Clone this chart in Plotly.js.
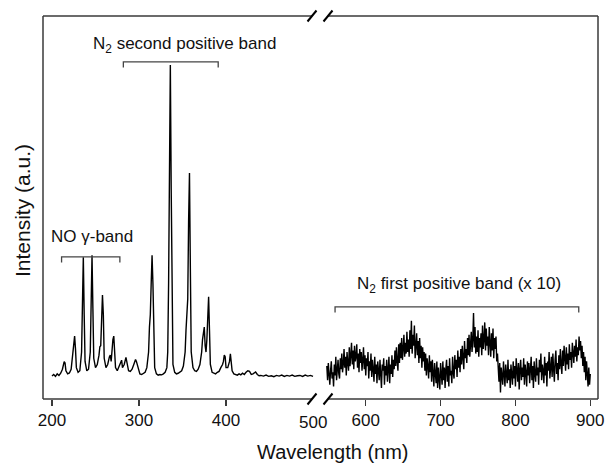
<!DOCTYPE html>
<html>
<head>
<meta charset="utf-8">
<script src="https://cdn.plot.ly/plotly-3.0.1.min.js"></script>
<style>html,body{margin:0;padding:0;background:#fff;}#chart{width:611px;height:465px;}</style>
</head>
<body>
<div id="chart"></div>
<script>
// ---- Data ----
const uvWavelength = [200,202,204,206,208,210,212,214,215,216,218,220,222,224,225,226,227,228,230,232,234,235,236,237,238,240,242,244,245,246,247,248,250,252,254,255,256,257,258,259,260,262,264,266,267,268,269,270,271,272,273,275,277,279,280,281,283,285,286,288,290,292,294,296,297,299,301,303,305,307,309,311,312,313,314,315,316,317,318,320,322,324,326,328,330,332,333,334,335,336,337,338,339,341,343,345,347,349,351,353,354,355,356,357,358,359,360,362,364,366,368,370,371,372,373,374,375,376,377,378,379,380,381,382,384,386,388,390,392,394,396,397,398,399,400,402,404,405,406,407,409,411,413,415,417,419,421,423,425,427,429,431,433,434,436,438,440,443,446,449,452,455,458,461,464,467,470,473,476,479,482,485,488,491,494,497,500];
const uvIntensity = [0.3,0.8,0.2,1.0,0.5,1.2,2.5,4.9,4.5,2.0,1.0,1.3,2.5,7,11,13.1,9,3,1.5,2,8,25,38.4,20,5,2,2.5,8,25,39,22,6,3,4,7,9.7,10,18,26.3,20,6,3,4,6.5,7,5,9,12,13.1,8,3,2,3.5,5,5.4,3,4,6.3,4.5,2,1.8,2.5,4,5.6,5,2.5,1,0.8,1.2,1.5,3,8,16,20,30,39,30,10,3,1,0.6,0.8,0.7,1,1.5,3,8,30,75,100,60,15,4,1.5,1,1.2,1.5,2,3.5,8,15,19.3,25,50,65.4,35,8,3,2,1.8,2.5,4,6,8,12,15,16,10,8,12,20,25.7,15,4,1.5,1.2,1,1.5,1.8,3,4,5,7,6.5,3,3,5,7.4,5,2,1,0.8,0.6,1,0.7,1.2,0.8,1.5,2,1.8,0.8,1,1.5,1.6,0.8,0.4,0.5,0.3,0.6,0.2,0.4,0.1,0.5,0.3,0.6,0.2,0.5,0.3,0.6,0.2,0.4,0.5,0.2,0.6,0.3,0.5,0.2];

// N2 first positive band (x 10), sampled every 1 nm from 548 nm to 900 nm
const irStartNm = 548;
const irStepNm = 1;
const irIntensity = [
  3.5,-1.0,4.5,0.5,-2.5,2.0,5.0,-0.5,1.5,-3.0,
  4.0,0.5,6.5,-1.0,3.0,5.5,1.0,-0.5,6.0,2.5,
  7.5,1.5,4.0,9.0,3.0,6.5,0.5,8.0,4.5,2.0,
  9.5,3.5,7.0,11.0,4.0,8.5,2.5,10.0,5.0,6.5,
  10.5,3.0,7.5,1.5,9.0,4.5,8.0,2.0,5.5,9.5,
  2.5,7.0,0.5,6.0,3.5,8.0,-0.5,5.0,2.0,7.5,
  0.0,5.5,2.5,-1.5,6.5,1.0,4.0,-2.0,5.0,3.0,
  -1.0,5.5,0.5,-3.5,4.0,2.0,6.0,-2.5,3.5,0.5,
  5.5,-1.5,2.5,6.5,-2.0,4.0,1.0,7.0,0.0,5.5,
  2.5,8.5,3.5,9.5,5.0,2.0,10.5,4.5,11.0,6.0,
  12.5,5.5,9.0,13.5,6.5,11.0,7.5,14.5,8.0,12.0,
  6.5,15.0,9.0,18.0,7.5,13.5,10.0,16.5,6.0,12.5,
  14.0,7.0,11.5,4.5,12.5,6.0,10.0,3.0,9.5,5.0,
  8.0,2.0,7.5,0.5,6.0,3.5,-0.5,7.0,1.5,5.0,
  -1.5,5.5,0.5,-3.0,4.5,1.5,-2.0,5.0,-3.5,3.0,
  0.0,-4.0,4.5,1.0,-2.5,5.0,-1.0,3.0,-3.5,2.5,
  5.5,-1.5,3.5,-3.0,6.0,0.5,2.0,-2.0,6.5,1.5,
  -0.5,7.0,2.5,5.5,0.0,8.5,3.0,6.5,1.5,9.0,
  4.0,10.0,5.5,2.5,11.5,6.0,9.0,4.5,12.5,7.0,
  13.5,6.5,10.5,14.5,8.0,12.0,20.5,9.5,16.0,7.5,
  13.0,8.0,15.0,6.5,12.5,9.5,14.0,7.0,16.5,9.0,
  12.0,17.5,8.5,15.5,10.0,13.0,7.0,16.0,11.0,6.5,
  14.0,8.5,15.5,6.0,12.5,9.0,13.0,5.0,7.5,2.0,
  -1.5,4.5,-5.0,3.0,0.5,-2.5,5.0,1.0,-3.0,4.0,
  0.5,-2.0,5.5,-1.0,2.5,-3.5,4.0,1.5,-2.5,5.0,
  -0.5,3.5,-3.0,6.0,1.0,-1.5,4.5,-4.0,2.5,5.5,
  -1.0,3.0,0.0,6.0,-2.5,4.0,1.5,-3.0,5.0,0.5,
  4.5,-2.0,2.5,6.5,-1.0,3.5,-3.5,5.0,1.0,-1.5,
  6.0,0.5,3.0,-2.5,5.5,1.5,7.5,-1.0,4.0,2.0,
  -2.0,6.5,0.5,4.5,-3.0,5.0,2.0,8.0,-0.5,3.5,
  6.5,0.0,7.5,2.5,-1.5,5.5,8.5,1.0,4.5,-1.0,
  7.0,2.5,9.0,4.0,1.0,8.5,3.5,10.0,5.0,2.0,
  9.5,4.0,7.5,2.5,10.5,5.5,8.0,3.0,11.0,6.0,
  4.5,10.0,6.5,12.0,5.0,9.5,7.0,13.0,8.5,11.5,
  6.0,10.0,3.5,8.0,1.5,6.5,-1.0,5.0,0.5,-3.0,
  3.0,-2.5,1.0
];
const irWavelength = irIntensity.map((_, i) => irStartNm + i * irStepNm);

const leftTicks = [200, 300, 400];
const rightTicks = [600, 700, 800, 900];
const breakLabel = 500;

// ---- Geometry helpers (pixel -> paper) ----
const L = 43, R = 598, T = 16, B = 399;
const W = R - L, H = B - T;
const px = x => (x - L) / W;
const py = y => (B - y) / H;

const frameColor = '#3a3a3a';
const font = 'Liberation Sans, Arial, Helvetica, sans-serif';

const traces = [
  {x: uvWavelength, y: uvIntensity, type: 'scatter', mode: 'lines',
   line: {color: '#000', width: 1.4}, xaxis: 'x', yaxis: 'y', hoverinfo: 'skip'},
  {x: irWavelength, y: irIntensity, type: 'scatter', mode: 'lines',
   line: {color: '#000', width: 1.4}, xaxis: 'x2', yaxis: 'y', hoverinfo: 'skip'}
];

function seg(x0, y0, x1, y1, color, width) {
  return {type: 'line', xref: 'paper', yref: 'paper', x0: x0, y0: y0, x1: x1, y1: y1,
          line: {color: color, width: width}};
}
const b1 = 312, b2 = 328;
const shapes = [
  seg(0, 0, px(b1), 0, frameColor, 1.5),
  seg(px(b2), 0, 1, 0, frameColor, 1.5),
  seg(0, 1, px(b1), 1, frameColor, 1.5),
  seg(px(b2), 1, 1, 1, frameColor, 1.5),
  seg(0, 0, 0, 1, frameColor, 1.5),
  seg(1, 0, 1, 1, frameColor, 1.5)
];
[b1, b2].forEach(c => {
  [B, T].forEach(yy => {
    shapes.push(seg(px(c - 4.5), py(yy + 5.5), px(c + 4.5), py(yy - 5.5), '#000', 2));
  });
});
// brackets (data coordinates)
function bracket(xref, x0, x1, y, drop) {
  return {type: 'path', xref: xref, yref: 'y',
    path: `M ${x0} ${y - drop} L ${x0} ${y} L ${x1} ${y} L ${x1} ${y - drop}`,
    line: {color: '#444', width: 1.3}};
}
shapes.push(bracket('x', 211, 278, 38.5, 1.8));
shapes.push(bracket('x', 282, 391, 101, 1.8));
shapes.push(bracket('x2', 559, 884.6, 22.5, 1.8));

const annFont = {family: font, size: 17, color: '#111'};
const annotations = [
  {text: 'NO γ-band', x: 245.6, y: 45, xref: 'x', yref: 'y', showarrow: false, font: annFont, xanchor: 'center', yanchor: 'middle'},
  {text: 'N<sub>2</sub> second positive band', x: 351.7, y: 106.4, xref: 'x', yref: 'y', showarrow: false, font: annFont, xanchor: 'center', yanchor: 'middle'},
  {text: 'N<sub>2</sub> first positive band (x 10)', x: 724.9, y: 29.6, xref: 'x2', yref: 'y', showarrow: false, font: annFont, xanchor: 'center', yanchor: 'middle'},
  {text: String(breakLabel), x: breakLabel, y: py(422.5), xref: 'x', yref: 'paper', showarrow: false,
   font: {family: font, size: 17, color: '#111'}, xanchor: 'center', yanchor: 'middle'},
  {text: 'Wavelength (nm)', x: px(333), y: py(451.5), xref: 'paper', yref: 'paper', showarrow: false,
   font: {family: font, size: 20, color: '#111'}, xanchor: 'center', yanchor: 'middle'},
  {text: 'Intensity (a.u.)', x: px(22), y: py(211), xref: 'paper', yref: 'paper', showarrow: false, textangle: -90,
   font: {family: font, size: 21, color: '#111'}, xanchor: 'center', yanchor: 'middle'}
];

const axisCommon = {showgrid: false, zeroline: false, showline: false, ticks: 'outside', ticklen: 6,
  tickwidth: 1.5, tickcolor: frameColor, tickfont: {family: font, size: 17, color: '#111'}, fixedrange: true};

const layout = {
  width: 611, height: 465,
  margin: {l: L, r: 611 - R, t: T, b: 465 - B, pad: 0},
  paper_bgcolor: '#fff', plot_bgcolor: '#fff',
  showlegend: false,
  xaxis: Object.assign({}, axisCommon, {domain: [0, px(314)], range: [189.66, 501.1],
    tickmode: 'array', tickvals: leftTicks, ticktext: leftTicks.map(String), anchor: 'y'}),
  xaxis2: Object.assign({}, axisCommon, {domain: [px(326), 1], range: [546.9, 910.3],
    tickmode: 'array', tickvals: rightTicks, ticktext: rightTicks.map(String), anchor: 'y'}),
  yaxis: {domain: [0, 1], range: [-7.05, 115.7], showgrid: false, zeroline: false, showline: false,
    showticklabels: false, ticks: '', fixedrange: true, anchor: 'x'},
  shapes: shapes,
  annotations: annotations
};

Plotly.newPlot('chart', traces, layout, {staticPlot: true, displayModeBar: false});
</script>
</body>
</html>
